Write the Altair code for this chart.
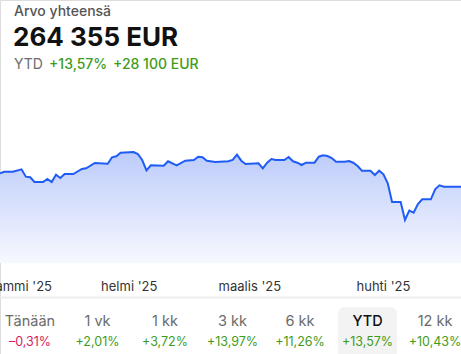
import altair as alt
import pandas as pd

# ---- data ----
dates = [
    "2025-01-02", "2025-01-03", "2025-01-05", "2025-01-07", "2025-01-08", "2025-01-09",
    "2025-01-10", "2025-01-12", "2025-01-13", "2025-01-14", "2025-01-15", "2025-01-16",
    "2025-01-17", "2025-01-19", "2025-01-21", "2025-01-22", "2025-01-24", "2025-01-27",
    "2025-01-28", "2025-01-29", "2025-01-30", "2025-02-02", "2025-02-03", "2025-02-04",
    "2025-02-05", "2025-02-06", "2025-02-09", "2025-02-10", "2025-02-12", "2025-02-14",
    "2025-02-16", "2025-02-17", "2025-02-18", "2025-02-19", "2025-02-21", "2025-02-24",
    "2025-02-25", "2025-02-26", "2025-02-27", "2025-02-28", "2025-03-03", "2025-03-04",
    "2025-03-05", "2025-03-06", "2025-03-07", "2025-03-09", "2025-03-10", "2025-03-11",
    "2025-03-12", "2025-03-13", "2025-03-14", "2025-03-16", "2025-03-17", "2025-03-18",
    "2025-03-19", "2025-03-20", "2025-03-21", "2025-03-23", "2025-03-24", "2025-03-25",
    "2025-03-26", "2025-03-27", "2025-03-29", "2025-03-30", "2025-03-31", "2025-04-01",
    "2025-04-02", "2025-04-03", "2025-04-05", "2025-04-06", "2025-04-07", "2025-04-08",
    "2025-04-09", "2025-04-10", "2025-04-12", "2025-04-13", "2025-04-14", "2025-04-15",
    "2025-04-19",
]
values = [
    271050, 271850, 271850, 273050, 269350, 269050,
    266700, 266700, 268200, 266700, 270350, 268700,
    270700, 270700, 273200, 273550, 276200, 275850,
    279050, 279550, 281350, 281700, 280700, 277700,
    272550, 275050, 274850, 277050, 275050, 277350,
    277700, 279350, 279050, 277350, 276700, 277050,
    277700, 280350, 277350, 275700, 276050, 273550,
    276350, 278200, 277700, 277700, 279200, 277050,
    276350, 275200, 276350, 276350, 279350, 280050,
    279700, 278700, 276850, 276850, 277200, 276350,
    274700, 272350, 272350, 270200, 272350, 270550,
    266050, 256700, 256700, 247700, 252350, 251350,
    255700, 258050, 258050, 263050, 265050, 264350,
    264350,
]

month_labels = ["tammi '25", "helmi '25", "maalis '25", "huhti '25"]
month_label_dates = ["2025-01-07", "2025-02-01", "2025-03-01", "2025-04-01"]

periods = ["Tänään", "1 vk", "1 kk", "3 kk", "6 kk", "YTD", "12 kk"]
changes = [-0.31, 2.01, 3.72, 13.97, 11.26, 13.57, 10.43]
selected_period = "YTD"

title_text = "Arvo yhteensä"
total_text = "264 355 EUR"
ytd_pct_text = "+13,57%"
ytd_abs_text = "+28 100 EUR"

FONT = "Inter"
BLUE = "#1f5cf5"
GREEN = "#3f9c1a"
RED = "#d81b60"

series = pd.DataFrame({"date": dates, "value": values})
months = pd.DataFrame({"date": month_label_dates, "label": month_labels})
tabs = pd.DataFrame({"period": periods, "change": changes})

x_time = alt.X(
    "date:T",
    axis=None,
    scale=alt.Scale(
        type="utc",
        domain=[alt.DateTime(year=2025, month=1, date=2, utc=True),
                alt.DateTime(year=2025, month=4, date=19, utc=True)],
    ),
)
# 500 EUR per pixel; value 226200 sits at y = 263 (bottom of the filled area)
y_val = alt.Y("value:Q", axis=None,
              scale=alt.Scale(domain=[180700, 357700], zero=False, nice=False))

area = alt.Chart(series).mark_area(
    color=alt.Gradient(
        gradient="linear",
        stops=[alt.GradientStop(color="#f7f9ff", offset=0),
               alt.GradientStop(color="#bccbfa", offset=1)],
        x1=1, x2=1, y1=1, y2=0,
    ),
).encode(x=x_time, y=y_val, y2=alt.datum(226200))

line = alt.Chart(series).mark_line(color=BLUE, strokeWidth=2).encode(x=x_time, y=y_val)

month_text = alt.Chart(months).mark_text(
    font=FONT, fontSize=13, color="#333333", baseline="alphabetic", align="center"
).encode(x=x_time, y=alt.value(291), text="label:N")

separator = alt.Chart(pd.DataFrame({"a": [0]})).mark_rule(color="#ededed", strokeWidth=2).encode(
    x=alt.value(0), x2=alt.value(461), y=alt.value(297.5)
)

highlight = alt.Chart(pd.DataFrame({"a": [0]})).mark_rect(
    color="#f3f3f3", cornerRadius=7
).encode(x=alt.value(338), x2=alt.value(397), y=alt.value(307), y2=alt.value(362))

tab_offset = alt.XOffset(
    "period:N", sort=None,
    scale=alt.Scale(type="point", domain=periods, range=[-200.5, 204.5], padding=0),
)

tab_labels = alt.Chart(tabs).transform_filter(
    f"datum.period != '{selected_period}'"
).mark_text(font=FONT, fontSize=14.5, color="#6b6b6b", baseline="alphabetic").encode(
    x=alt.value(230.5), xOffset=tab_offset, y=alt.value(326), text="period:N",
)

tab_label_sel = alt.Chart(tabs).transform_filter(
    f"datum.period == '{selected_period}'"
).mark_text(font=FONT, fontSize=14.5, color="#111111", fontWeight=500, baseline="alphabetic").encode(
    x=alt.value(230.5), xOffset=tab_offset, y=alt.value(326), text="period:N",
)

tab_values = alt.Chart(tabs).transform_calculate(
    txt="(datum.change < 0 ? '\u2013' : '+') + replace(format(abs(datum.change), '.2f'), '.', ',') + '%'",
    c=f"datum.change < 0 ? '{RED}' : '{GREEN}'",
).mark_text(font=FONT, fontSize=12.5, baseline="alphabetic").encode(
    x=alt.value(230.5), xOffset=tab_offset, y=alt.value(346), text="txt:N",
    color=alt.Color("c:N", scale=None),
)

def label(text, x, y, size, color, weight="normal"):
    return alt.Chart(pd.DataFrame({"t": [text]})).mark_text(
        font=FONT, fontSize=size, color=color, fontWeight=weight,
        align="left", baseline="alphabetic"
    ).encode(x=alt.value(x), y=alt.value(y), text="t:N")

header = [
    label(title_text, 14, 16, 14, "#555555", 500),
    label(total_text, 13, 46, 26, "#111111", "bold"),
    label("YTD", 14, 69, 14, "#6b6b6b"),
    label(ytd_pct_text, 49, 69, 14, GREEN, 500),
    label(ytd_abs_text, 113, 69, 14, GREEN, 500),
]

chart = alt.layer(
    area, line, month_text, separator, highlight, tab_labels, tab_label_sel, tab_values, *header
).properties(
    width=461, height=354, padding=0,
    autosize=alt.AutoSizeParams(type="none"),
).configure_view(stroke="transparent", strokeWidth=0, fill="white").configure(background="white")

chart.save("out.html", embed_options={"renderer": "svg", "actions": False})
